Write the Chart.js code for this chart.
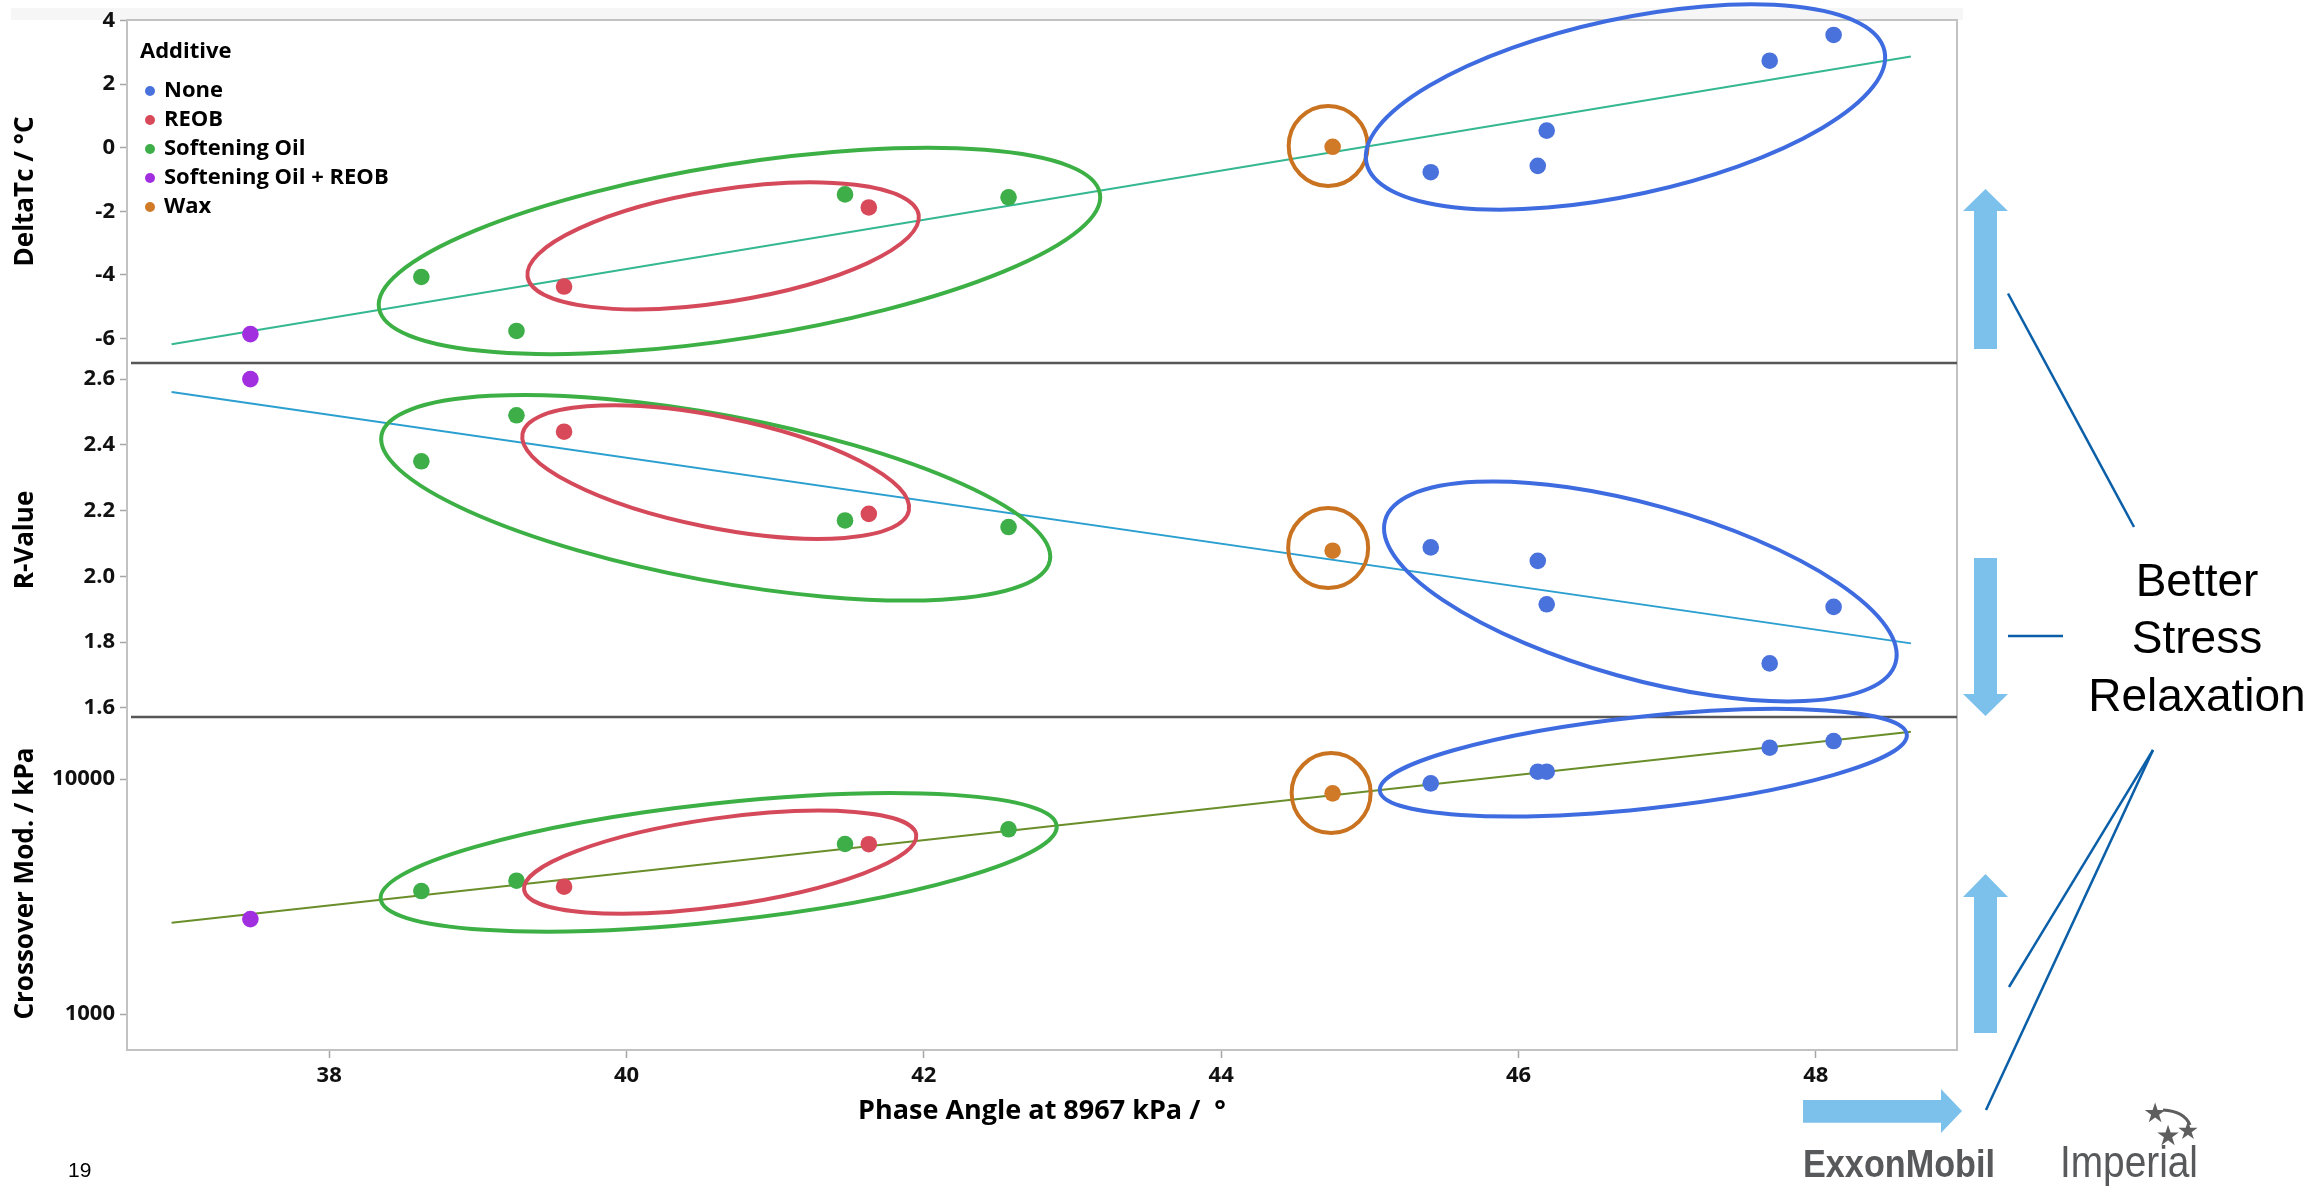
<!DOCTYPE html>
<html>
<head>
<meta charset="utf-8">
<title>Phase angle vs DeltaTc, R-Value and Crossover modulus</title>
<script src="https://cdn.jsdelivr.net/npm/chart.js@4.4.1/dist/chart.umd.min.js"></script>
<style>
  html, body { margin:0; padding:0; background:#fff; }
  #slide { position:relative; width:2317px; height:1188px; overflow:hidden; background:#fff; }
  #band { position:absolute; left:11px; top:8px; width:1952px; height:12px; background:#f6f6f6; }
  #chart, #deco { position:absolute; left:0; top:0; }
</style>
</head>
<body>
<div id="slide">
  <div id="band"></div>
  <canvas id="chart" width="2317" height="1188"></canvas>
  <svg id="deco" width="2317" height="1188" viewBox="0 0 2317 1188">
    <g fill="#7cc1ec">
      <polygon points="1985.5,189 2008,211 1997,211 1997,349 1974,349 1974,211 1963,211"/>
      <polygon points="1974,558 1997,558 1997,694 2008,694 1985.5,716 1963,694 1974,694"/>
      <polygon points="1985.5,874 2008,897 1997,897 1997,1033 1974,1033 1974,897 1963,897"/>
      <polygon points="1803,1100 1941,1100 1941,1089 1962,1111 1941,1133 1941,1122.7 1803,1122.7"/>
    </g>
    <g stroke="#0a5fa8" stroke-width="2.5" fill="none">
      <line x1="2008" y1="293.5" x2="2134" y2="527"/>
      <line x1="2008" y1="636" x2="2063" y2="636"/>
      <line x1="2009" y1="987" x2="2153" y2="750"/>
      <line x1="1986" y1="1110" x2="2153" y2="750"/>
    </g>
    <g font-family="'Liberation Sans', Arial, sans-serif" font-size="46" text-anchor="middle" fill="#000">
      <text x="2197" y="596">Better</text>
      <text x="2197" y="653">Stress</text>
      <text x="2197" y="711">Relaxation</text>
    </g>
    <text x="1803" y="1177" font-family="'Liberation Sans', Arial, sans-serif" font-weight="bold" font-size="38" fill="#58595b" textLength="192" lengthAdjust="spacingAndGlyphs">ExxonMobil</text>
    <text x="2060" y="1177" font-family="'Liberation Sans', Arial, sans-serif" font-size="44" fill="#58595b" textLength="138" lengthAdjust="spacingAndGlyphs">Imperial</text>
    <path d="M2163,1110 Q2184,1111 2190,1125" stroke="#5e5e5e" stroke-width="3" fill="none"/>
    <g font-family="'DejaVu Sans', sans-serif" fill="#5e5e5e" text-anchor="middle">
      <text x="2155" y="1122" font-size="27">★</text>
      <text x="2168" y="1145" font-size="28">★</text>
      <text x="2188" y="1139" font-size="25">★</text>
    </g>
    <text x="68" y="1177" font-family="'Liberation Sans', Arial, sans-serif" font-size="21" fill="#000">19</text>
  </svg>
</div>
<script>
const FONT = "'Open Sans', 'Liberation Sans', Arial, sans-serif";

// additive groups, in legend order
const additives = ["None", "REOB", "Softening Oil", "Softening Oil + REOB", "Wax"];
const additiveColors = ["#4a72dd", "#d84a5a", "#3dae48", "#a12fe0", "#d07a28"];

// phase angle at 8967 kPa, one list per additive
const phaseAngle = [
  [45.41, 46.13, 46.19, 47.69, 48.12],
  [39.58, 41.63],
  [38.62, 39.26, 41.47, 42.57],
  [37.47],
  [44.75]
];
const deltaTc = [
  [-0.77, -0.57, 0.54, 2.74, 3.55],
  [-4.37, -1.88],
  [-4.07, -5.77, -1.47, -1.56],
  [-5.87],
  [0.03]
];
const rValue = [
  [2.088, 2.047, 1.915, 1.735, 1.907],
  [2.44, 2.19],
  [2.35, 2.49, 2.17, 2.15],
  [2.60],
  [2.078]
];
const crossover = [
  [9585, 10740, 10740, 13590, 14510],
  [3482, 5280],
  [3337, 3693, 5290, 6110],
  [2535],
  [8690]
];

// fitted lines, start and end
const fitPhase = [36.94, 48.64];
const fitDeltaTc = [-6.19, 2.87];
const fitRValue = [2.561, 1.796];
const fitCrossover = [2447, 15900];

// ticks
const phaseTicks = [38, 40, 42, 44, 46, 48];
const deltaTicks = [-6, -4, -2, 0, 2, 4];
const rTicks = [1.6, 1.7, 1.8, 1.9, 2.0, 2.1, 2.2, 2.3, 2.4, 2.5, 2.6];
const crossTicks = [1000, 10000];

// hand drawn rings round the groups (centre in data units, radii in px)
const rings = [
  {axis:"yD", x:40.76, y:-3.25, rx:365, ry:87, rot:-9.0, color:"#3cb044"},
  {axis:"yD", x:40.65, y:-3.09, rx:198, ry:56, rot:-9.0, color:"#d54a5b"},
  {axis:"yD", x:44.72, y:0.055, rx:39.5, ry:40, rot:0, color:"#c9721f"},
  {axis:"yD", x:46.72, y:1.283, rx:265, ry:88, rot:-12.2, color:"#3e6ce0"},
  {axis:"yR", x:40.60, y:2.239, rx:340, ry:83, rot:10.6, color:"#3cb044"},
  {axis:"yR", x:40.60, y:2.317, rx:197, ry:55.5, rot:11.3, color:"#d54a5b"},
  {axis:"yR", x:44.72, y:2.086, rx:40, ry:40, rot:0, color:"#c9721f"},
  {axis:"yR", x:46.82, y:1.954, rx:265, ry:87, rot:15.6, color:"#3e6ce0"},
  {axis:"yC", x:40.62, y:4421, rx:340, ry:59, rot:-6.2, color:"#3cb044"},
  {axis:"yC", x:40.63, y:4426, rx:198, ry:44, rot:-8.0, color:"#d54a5b"},
  {axis:"yC", x:44.74, y:8717, rx:39.5, ry:40, rot:0, color:"#c9721f"},
  {axis:"yC", x:46.84, y:11733, rx:265, ry:46, rot:-6.1, color:"#3e6ce0"}
];

const panels = [
  {axis:"yD", values:deltaTc, fit:fitDeltaTc, fitColor:"#35b791"},
  {axis:"yR", values:rValue, fit:fitRValue, fitColor:"#2b9fcf"},
  {axis:"yC", values:crossover, fit:fitCrossover, fitColor:"#6a8e2a"}
];

const datasets = [];
panels.forEach(p => {
  datasets.push({
    type:"line", label:"fit", yAxisID:p.axis,
    data: fitPhase.map((x, i) => ({x, y:p.fit[i]})),
    borderColor:p.fitColor, borderWidth:2, pointRadius:0, order:2
  });
  additives.forEach((name, i) => {
    datasets.push({
      label:name, yAxisID:p.axis,
      data: phaseAngle[i].map((x, j) => ({x, y:p.values[i][j]})),
      backgroundColor:additiveColors[i], borderWidth:0,
      pointRadius:8.3, pointHoverRadius:8.3, order:1
    });
  });
});

const tickFont = {family:FONT, size:22, weight:"bold"};
const titleFont = {family:FONT, size:26, weight:"bold", lineHeight:1.2};

function yScale(extra){
  return Object.assign({
    position:"left", stack:"panels",
    border:{display:true, color:"#c2c2c2", width:2},
    grid:{drawOnChartArea:false, drawTicks:true, tickLength:7, tickColor:"#a6a6a6", tickWidth:1.5},
    afterFit: s => { s.width = 127; }
  }, extra);
}
const yTitle = text => ({display:true, text, font:titleFont, color:"#000", padding:{top:10, bottom:0}});

const framePlugin = {
  id:"frame",
  beforeDatasetsDraw(chart){
    const {ctx, chartArea:a, scales} = chart;
    ctx.save();
    ctx.strokeStyle = "#c2c2c2"; ctx.lineWidth = 2;
    ctx.beginPath(); ctx.moveTo(a.left, a.top); ctx.lineTo(a.right, a.top); ctx.lineTo(a.right, a.bottom); ctx.stroke();
    ctx.strokeStyle = "#575757"; ctx.lineWidth = 2.5;
    [scales.yD.bottom, scales.yR.bottom].forEach(y => {
      ctx.beginPath(); ctx.moveTo(a.left + 4, y); ctx.lineTo(a.right, y); ctx.stroke();
    });
    ctx.restore();
  }
};

const ringPlugin = {
  id:"rings",
  afterDatasetsDraw(chart){
    const {ctx, scales} = chart;
    ctx.save();
    ctx.lineWidth = 4;
    rings.forEach(r => {
      const cx = scales.x.getPixelForValue(r.x), cy = scales[r.axis].getPixelForValue(r.y);
      ctx.strokeStyle = r.color;
      ctx.beginPath();
      ctx.ellipse(cx, cy, r.rx, r.ry, r.rot * Math.PI / 180, 0, Math.PI * 2);
      ctx.stroke();
    });
    ctx.restore();
  }
};

const legendPlugin = {
  id:"additiveLegend",
  afterDraw(chart){
    const {ctx, chartArea:a} = chart;
    ctx.save();
    ctx.textBaseline = "middle"; ctx.textAlign = "left";
    ctx.font = "bold 22px " + FONT;
    ctx.fillStyle = "#000";
    ctx.fillText("Additive", a.left + 13, a.top + 32);
    additives.forEach((name, i) => {
      const y = a.top + 71 + i * 29;
      ctx.fillStyle = additiveColors[i];
      ctx.beginPath(); ctx.arc(a.left + 23, y, 5, 0, Math.PI * 2); ctx.fill();
      ctx.fillStyle = "#000";
      ctx.fillText(name, a.left + 37, y);
    });
    ctx.restore();
  }
};

new Chart(document.getElementById("chart"), {
  type:"scatter",
  data:{datasets},
  options:{
    responsive:false, animation:false, devicePixelRatio:1,
    layout:{padding:{left:0, top:20, right:360, bottom:38}},
    plugins:{legend:{display:false}, tooltip:{enabled:false}},
    scales:{
      x:{
        type:"linear", min:36.64, max:48.95,
        border:{display:true, color:"#c2c2c2", width:2},
        grid:{drawOnChartArea:false, drawTicks:true, tickLength:8, tickColor:"#a6a6a6", tickWidth:1.5},
        afterBuildTicks: s => { s.ticks = phaseTicks.map(v => ({value:v})); },
        ticks:{font:tickFont, color:"#111", padding:5, callback: v => String(v)},
        title:{display:true, text:"Phase Angle at 8967 kPa /  °", font:{family:FONT, size:27, weight:"bold", lineHeight:1.2}, color:"#000", padding:{top:0, bottom:22}},
        afterFit: s => { s.height = 100; }
      },
      yC: yScale({
        type:"logarithmic", min:703, max:18358, stackWeight:333,
        afterBuildTicks: s => { s.ticks = crossTicks.map(v => ({value:v})); },
        ticks:{font:tickFont, color:"#111", padding:5, callback: v => String(v)},
        title: yTitle("Crossover Mod. / kPa")
      }),
      yR: yScale({
        type:"linear", min:1.572, max:2.649, stackWeight:354,
        afterBuildTicks: s => { s.ticks = rTicks.map(v => ({value:v})); },
        ticks:{font:tickFont, color:"#111", padding:5, callback: (v, i) => i % 2 === 0 ? Number(v).toFixed(1) : ""},
        title: yTitle("R-Value")
      }),
      yD: yScale({
        type:"linear", min:-6.778, max:4.022, stackWeight:343,
        afterBuildTicks: s => { s.ticks = deltaTicks.map(v => ({value:v})); },
        ticks:{font:tickFont, color:"#111", padding:5, callback: v => String(v)},
        title: yTitle("DeltaTc / °C")
      })
    }
  },
  plugins:[framePlugin, ringPlugin, legendPlugin]
});
</script>
</body>
</html>
